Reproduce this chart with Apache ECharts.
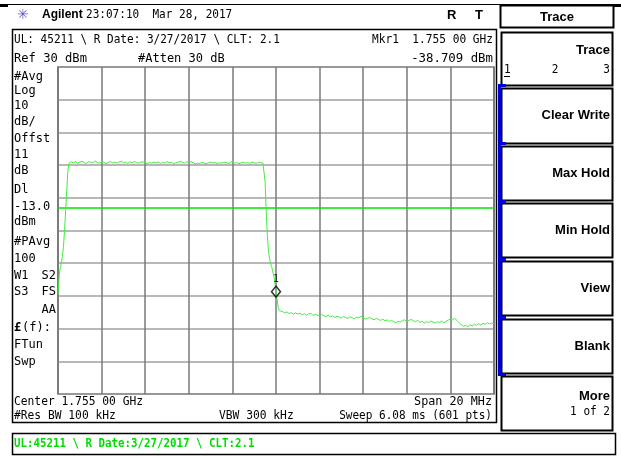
<!DOCTYPE html>
<html><head><meta charset="utf-8">
<script src="https://cdn.jsdelivr.net/npm/echarts@6/dist/echarts.min.js"></script>
<style>html,body{margin:0;padding:0;background:#fff}#c{width:621px;height:457px}</style>
</head><body><div id="c"></div>
<script>
// ---- data (frequency in MHz, level in dBm) ----
const riseFreq  = [1745.00,1745.03,1745.06,1745.09,1745.12,1745.15,1745.20,1745.25,1745.30,1745.35,1745.40,1745.45,1745.50];
const riseLevel = [-39.5,-36.5,-33.5,-32.0,-31.0,-30.0,-28.0,-25.0,-20.0,-14.0,-8.0,-2.0,0.5];
const topStart = 1745.6, topStep = 0.1;
const topLevel = [1.0,0.7,1.1,0.6,0.9,1.2,0.8,0.5,1.0,0.9,
  0.7,1.3,0.8,0.6,1.0,0.9,0.4,0.8,1.1,0.7,
  0.9,0.6,1.0,1.2,0.8,0.9,0.5,1.0,0.7,1.1,
  0.8,0.6,0.9,1.0,0.7,0.4,0.8,0.6,0.9,0.7,
  1.0,0.5,0.8,0.6,1.1,0.7,0.9,0.4,0.7,0.8,
  1.2,0.9,0.6,1.0,0.8,1.1,0.7,0.3,0.6,0.5,
  0.8,0.6,0.4,0.7,0.9,0.6,0.8,0.5,0.7,0.6,
  0.8,0.9,0.5,0.7,1.2,0.6,0.8,0.4,0.7,0.9,
  0.6,0.8,0.5,0.9,0.7,0.6,0.8,0.7,0.6];
const fallFreq  = [1754.45,1754.50,1754.55,1754.60,1754.65,1754.70,1754.75,1754.80,1754.85,1754.90,1754.95,1755.00,1755.05,1755.10,1755.15,1755.20];
const fallLevel = [0.3,-5,-14,-21,-26,-28.5,-30,-31,-32.5,-34,-36,-38.7,-41,-43.5,-44.5,-44.8];
const floorStart = 1755.3, floorStep = 0.1;
const floorLevel = [-44.8,-45.2,-44.9,-45.4,-45.1,-45.6,-45.2,-45.5,-45.3,-45.8,
  -45.4,-45.9,-45.5,-45.3,-46.0,-45.6,-45.9,-46.2,-45.7,-46.1,
  -46.3,-45.9,-46.4,-46.1,-46.6,-46.2,-46.5,-46.8,-46.3,-46.6,
  -46.9,-46.4,-46.7,-47.0,-46.5,-46.8,-46.2,-46.7,-47.1,-46.8,
  -46.6,-47.0,-47.3,-46.9,-47.2,-47.5,-47.1,-47.6,-47.3,-47.8,
  -47.5,-47.9,-48.2,-47.7,-48.0,-47.6,-47.3,-47.8,-47.5,-47.2,
  -47.6,-47.9,-47.5,-48.1,-47.8,-48.3,-47.9,-48.2,-47.7,-48.0,
  -48.3,-47.9,-48.1,-47.7,-48.2,-47.8,-47.4,-47.0,-47.3,-46.9,
  -47.5,-48.2,-48.9,-49.3,-49.0,-49.4,-48.8,-49.2,-48.7,-49.0,
  -48.5,-48.9,-48.4,-48.7,-48.2,-48.6,-48.3,-48.5];
const marker = [1755.0, -38.709];
const displayLine = -13.0;
const freqMin = 1745, freqMax = 1765, freqStep = 2;
const refLevel = 30, bottomLevel = -70, dbPerDiv = 10;

const leftLabels = ['#Avg','Log','10','dB/','Offst','11','dB','Dl','-13.0','dBm','#PAvg','100','W1','S3','(f):','FTun','Swp'];
const softKeys = ['Trace','Clear Write','Max Hold','Min Hold','View','Blank','More'];

// ---- build trace ----
const trace = [];
riseFreq.forEach((f,i)=>trace.push([f, riseLevel[i]]));
topLevel.forEach((v,i)=>trace.push([+(topStart+i*topStep).toFixed(2), v]));
fallFreq.forEach((f,i)=>trace.push([f, fallLevel[i]]));
floorLevel.forEach((v,i)=>trace.push([+(floorStart+i*floorStep).toFixed(2), v]));

const MONO = '"DejaVu Sans Mono", "Liberation Mono", monospace';
const SANS = '"Liberation Sans", Arial, sans-serif';
function T(x, y, s, o) {
  o = o || {};
  return {type:'text', x:x, y:y, scaleX:o.sx||0.92, z:20, silent:true,
    style:{text:s, fill:o.fill||'#000', font:(o.bold?'bold ':'')+(o.size||12)+'px '+(o.font||MONO),
      textAlign:o.align||'left', textVerticalAlign:'middle'}};
}
function R(x, y, w, h, o) {
  o = o || {};
  return {type:'rect', z:o.z||10, silent:true, shape:{x:x,y:y,width:w,height:h},
    style:{fill:o.fill||'none', stroke:o.stroke||'#000', lineWidth:o.lw||1}};
}
const g = [];
// top rule
g.push(R(0,4,621,1,{fill:'#000',stroke:'none'}));
g.push(R(0,4,8,3,{fill:'#000',stroke:'none'}));
g.push(R(613,4,8,3,{fill:'#000',stroke:'none'}));
// header
g.push(T(17,15,'✳',{fill:'#6a5acd',size:14,font:'"DejaVu Sans"',sx:1}));
g.push(T(42,15,'Agilent',{bold:true,font:SANS,size:12,sx:1}));
g.push(T(86,15,'23:07:10  Mar 28, 2017',{sx:0.92}));
g.push(T(447,15,'R',{bold:true,font:SANS,size:13,sx:1}));
g.push(T(475,15,'T',{bold:true,font:SANS,size:13,sx:1}));
// main box
g.push(R(12.5,29.5,484,393,{lw:1.5}));
g.push(T(14,40,'UL: 45211 \\ R Date: 3/27/2017 \\ CLT: 2.1',{sx:0.92}));
g.push(T(493,40,'Mkr1  1.755 00 GHz',{align:'right',sx:0.93}));
g.push(T(14,59,'Ref 30 dBm',{sx:1.01}));
g.push(T(138,59,'#Atten 30 dB',{sx:1.0}));
g.push(T(493,59,'-38.709 dBm',{align:'right',sx:1.03}));
const leftY = [77,91,106,122,139,155,171,190,207,222,242,259,276,292,328,345,362];
leftLabels.forEach((s,i)=>{
  const x = (s==='(f):') ? 22 : 14;
  g.push(T(x,leftY[i],s,{sx:1.0}));
});
g.push(T(14,328,'£',{bold:true,sx:1.0}));
g.push(T(56,276,'S2',{align:'right',sx:1.0}));
g.push(T(56,292,'FS',{align:'right',sx:1.0}));
g.push(T(56,310,'AA',{align:'right',sx:1.0}));
g.push(T(14,402,'Center 1.755 00 GHz',{sx:0.94}));
g.push(T(492,402,'Span 20 MHz',{align:'right',sx:0.98}));
g.push(T(14,416,'#Res BW 100 kHz',{sx:0.94}));
g.push(T(219,416,'VBW 300 kHz',{sx:0.94}));
g.push(T(492,416,'Sweep 6.08 ms (601 pts)',{align:'right',sx:0.92}));
// status bar
g.push(R(12.5,433.5,603,21,{lw:1.5}));
g.push(T(14,444,'UL:45211 \\ R Date:3/27/2017 \\ CLT:2.1',{bold:true,fill:'#00dd00',sx:0.9}));
// soft keys
g.push(R(500.5,5.5,113,22,{lw:2}));
g.push(T(557,17,'Trace',{bold:true,font:SANS,size:13,align:'center',sx:1}));
const keyTop = [32,88,146,203,261,319,376];
const keyH = [53,55,54,54,54,54,54];
softKeys.forEach((s,i)=>{
  g.push(R(501.5,keyTop[i]+0.5,111,keyH[i],{lw:2}));
  const cy = (i===0)?50:(i===6?396:keyTop[i]+keyH[i]/2);
  g.push(T(610,cy,s,{bold:true,font:SANS,size:13,align:'right',sx:1}));
});
g.push(T(504,70,'1',{}));
g.push(R(504,76,6,1,{fill:'#000',stroke:'none'}));
g.push(T(555,70,'2',{align:'center'}));
g.push(T(610,70,'3',{align:'right'}));
g.push(T(610,412,'1 of 2',{align:'right'}));
// blue selection bar
g.push(R(498,84,3,292,{fill:'#0000dd',stroke:'none',z:15}));
[84,142,200,258,316,373].forEach(y=>g.push(R(498,y,8,3,{fill:'#0000dd',stroke:'none',z:15})));

const chart = echarts.init(document.getElementById('c'));
chart.setOption({
  animation:false,
  backgroundColor:'#fff',
  grid:{left:58,top:67,width:436,height:327,show:true,borderColor:'#555',borderWidth:1.5,backgroundColor:'#fff'},
  xAxis:{type:'value',min:freqMin,max:freqMax,interval:freqStep,
    axisLine:{show:false},axisTick:{show:false},axisLabel:{show:false},
    splitLine:{show:true,lineStyle:{color:'#7a7a7a',width:1.5}}},
  yAxis:{type:'value',min:bottomLevel,max:refLevel,interval:dbPerDiv,
    axisLine:{show:false},axisTick:{show:false},axisLabel:{show:false},
    splitLine:{show:true,lineStyle:{color:'#a0a0a0',width:1.5}}},
  series:[
    {type:'line',data:trace,showSymbol:false,symbol:'none',
      lineStyle:{color:'#3fef3f',width:1},z:5,
      markLine:{silent:true,symbol:'none',label:{show:false},
        lineStyle:{color:'#00e600',width:1.5,type:'solid'},
        data:[{yAxis:displayLine}]}},
    {type:'scatter',data:[marker],symbol:'diamond',symbolSize:[9,11],z:8,
      itemStyle:{color:'rgba(0,0,0,0)',borderColor:'#000',borderWidth:1.5},
      label:{show:true,formatter:'1',position:'top',distance:1,fontSize:10,color:'#000',fontFamily:MONO}}
  ],
  graphic:{elements:g}
});
</script></body></html>
